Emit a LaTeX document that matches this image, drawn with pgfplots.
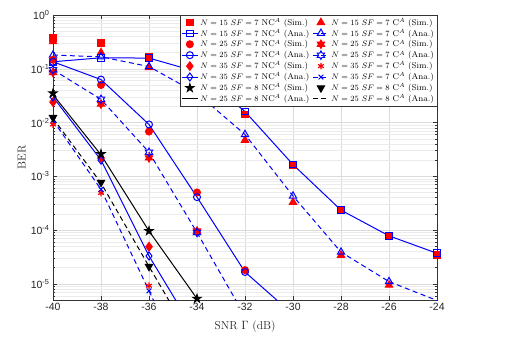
\documentclass[border=0pt]{standalone}
\usepackage{fontspec}
\usepackage{pgfplots}
\pgfplotsset{compat=1.18}
\newfontfamily\ticksfont{Liberation Sans}
\pgfdeclareplotmark{hexagram}{%
  \pgfpathmoveto{\pgfpointpolar{90}{\pgfplotmarksize}}%
  \pgfpathlineto{\pgfpointpolar{120}{0.577\pgfplotmarksize}}%
  \pgfpathlineto{\pgfpointpolar{150}{\pgfplotmarksize}}%
  \pgfpathlineto{\pgfpointpolar{180}{0.577\pgfplotmarksize}}%
  \pgfpathlineto{\pgfpointpolar{210}{\pgfplotmarksize}}%
  \pgfpathlineto{\pgfpointpolar{240}{0.577\pgfplotmarksize}}%
  \pgfpathlineto{\pgfpointpolar{270}{\pgfplotmarksize}}%
  \pgfpathlineto{\pgfpointpolar{300}{0.577\pgfplotmarksize}}%
  \pgfpathlineto{\pgfpointpolar{330}{\pgfplotmarksize}}%
  \pgfpathlineto{\pgfpointpolar{0}{0.577\pgfplotmarksize}}%
  \pgfpathlineto{\pgfpointpolar{30}{\pgfplotmarksize}}%
  \pgfpathlineto{\pgfpointpolar{60}{0.577\pgfplotmarksize}}%
  \pgfpathclose\pgfusepathqstroke}
\pgfdeclareplotmark{hexagram*}{%
  \pgfpathmoveto{\pgfpointpolar{90}{\pgfplotmarksize}}%
  \pgfpathlineto{\pgfpointpolar{120}{0.577\pgfplotmarksize}}%
  \pgfpathlineto{\pgfpointpolar{150}{\pgfplotmarksize}}%
  \pgfpathlineto{\pgfpointpolar{180}{0.577\pgfplotmarksize}}%
  \pgfpathlineto{\pgfpointpolar{210}{\pgfplotmarksize}}%
  \pgfpathlineto{\pgfpointpolar{240}{0.577\pgfplotmarksize}}%
  \pgfpathlineto{\pgfpointpolar{270}{\pgfplotmarksize}}%
  \pgfpathlineto{\pgfpointpolar{300}{0.577\pgfplotmarksize}}%
  \pgfpathlineto{\pgfpointpolar{330}{\pgfplotmarksize}}%
  \pgfpathlineto{\pgfpointpolar{0}{0.577\pgfplotmarksize}}%
  \pgfpathlineto{\pgfpointpolar{30}{\pgfplotmarksize}}%
  \pgfpathlineto{\pgfpointpolar{60}{0.577\pgfplotmarksize}}%
  \pgfpathclose\pgfusepathqfillstroke}
\pgfdeclareplotmark{pentagram*}{%
  \pgfpathmoveto{\pgfpointpolar{90}{\pgfplotmarksize}}%
  \pgfpathlineto{\pgfpointpolar{126}{0.382\pgfplotmarksize}}%
  \pgfpathlineto{\pgfpointpolar{162}{\pgfplotmarksize}}%
  \pgfpathlineto{\pgfpointpolar{198}{0.382\pgfplotmarksize}}%
  \pgfpathlineto{\pgfpointpolar{234}{\pgfplotmarksize}}%
  \pgfpathlineto{\pgfpointpolar{270}{0.382\pgfplotmarksize}}%
  \pgfpathlineto{\pgfpointpolar{306}{\pgfplotmarksize}}%
  \pgfpathlineto{\pgfpointpolar{342}{0.382\pgfplotmarksize}}%
  \pgfpathlineto{\pgfpointpolar{18}{\pgfplotmarksize}}%
  \pgfpathlineto{\pgfpointpolar{54}{0.382\pgfplotmarksize}}%
  \pgfpathclose\pgfusepathqfillstroke}
\begin{document}
\begin{tikzpicture}
\path[use as bounding box] (-53pt,-46pt) rectangle (473pt,300pt);
\begin{axis}[
  at={(0pt,0pt)}, anchor=south west,
  scale only axis, width=384pt, height=285pt,
  ymode=log, log basis y=10,
  xmin=-40, xmax=-24, ymin=5e-6, ymax=1,
  xtick={-40,-38,...,-24},
  xticklabels={-40,-38,-36,-34,-32,-30,-28,-26,-24},
  ytick={1e-5,1e-4,1e-3,1e-2,1e-1,1},
  yticklabels={10\textsuperscript{-5},10\textsuperscript{-4},10\textsuperscript{-3},10\textsuperscript{-2},10\textsuperscript{-1},10\textsuperscript{0}},
  minor ytick={5e-6,6e-6,7e-6,8e-6,9e-6,2e-5,3e-5,4e-5,5e-5,6e-5,7e-5,8e-5,9e-5,2e-4,3e-4,4e-4,5e-4,6e-4,7e-4,8e-4,9e-4,2e-3,3e-3,4e-3,5e-3,6e-3,7e-3,8e-3,9e-3,2e-2,3e-2,4e-2,5e-2,6e-2,7e-2,8e-2,9e-2,0.2,0.3,0.4,0.5,0.6,0.7,0.8,0.9},
  tick label style={font=\ticksfont\fontsize{10.5}{12}\selectfont, text=black!85},
  tick align=inside,
  major tick length=4pt, minor tick length=2pt,
  every tick/.style={black!80, line width=0.4pt},
  axis line style={black!80, line width=0.5pt},
  xmajorgrids, ymajorgrids, yminorgrids,
  major grid style={black!14, line width=0.4pt},
  minor grid style={black!8, line width=0.4pt},
  xlabel={SNR $\Gamma$ (dB)}, ylabel={BER},
  label style={font=\fontsize{11.5}{13}\selectfont, text=black!85},
  xlabel style={yshift=-3pt},
  ylabel style={yshift=-2pt},
  legend columns=2,
  legend cell align=left,
  legend style={at={(1,1)}, anchor=north east, draw=black!80, fill=white,
    font=\fontsize{8.45}{9.5}\selectfont, inner sep=1pt, row sep=-1.5pt,
    /tikz/every even column/.append style={column sep=1pt}},
  legend image code/.code={\draw[mark repeat=2,mark phase=2] plot coordinates {(0pt,0pt)(8pt,0pt)(16pt,0pt)};},
  every axis plot/.append style={line width=1pt},
]
% row 1
\addplot[only marks, red, mark=square*, mark size=3.3pt, mark options={fill=red}] coordinates {(-40,0.375)(-38,0.30)(-36,0.167)(-34,0.09)(-32,0.014)(-30,1.6e-3)(-28,2.4e-4)(-26,7.8e-5)(-24,3.4e-5)};
\addlegendentry{$N=15$ $SF=7$ NC$^A$ (Sim.)}
\addplot[only marks, red, mark=triangle*, mark size=4.2pt, mark options={fill=red}] coordinates {(-40,0.32)(-38,0.2)(-36,0.105)(-34,0.03)(-32,4.7e-3)(-30,3.3e-4)(-28,3.4e-5)(-26,9.5e-6)};
\addlegendentry{$N=15$ $SF=7$ C$^A$ (Sim.)}
% row 2
\addplot[blue, solid, mark=square, mark size=3.3pt, mark options={solid}] coordinates {(-40,0.135)(-38,0.16)(-36,0.158)(-34,0.088)(-32,0.016)(-30,1.65e-3)(-28,2.35e-4)(-26,7.8e-5)(-24,3.7e-5)};
\addlegendentry{$N=15$ $SF=7$ NC$^A$ (Ana.)}
\addplot[blue, dash pattern=on 5pt off 3.5pt, mark=triangle, mark size=4.2pt, mark options={solid}] coordinates {(-40,0.18)(-38,0.167)(-36,0.11)(-34,0.035)(-32,6e-3)(-30,4.3e-4)(-28,3.9e-5)(-26,1.1e-5)};
\addlegendentry{$N=15$ $SF=7$ C$^A$ (Ana.)}
\addplot[blue, dash pattern=on 5pt off 3.5pt, forget plot] coordinates {(-26,1.1e-5)(-24,4.9e-6)};
% row 3
\addplot[only marks, red, mark=*, mark size=3.5pt, mark options={fill=red}] coordinates {(-40,0.147)(-38,0.05)(-36,6.8e-3)(-34,5e-4)(-32,1.8e-5)};
\addlegendentry{$N=25$ $SF=7$ NC$^A$ (Sim.)}
\addplot[only marks, red, mark=hexagram*, mark size=4.2pt, mark options={fill=red}] coordinates {(-40,0.085)(-38,0.022)(-36,2.2e-3)(-34,9.6e-5)};
\addlegendentry{$N=25$ $SF=7$ C$^A$ (Sim.)}
% row 4
\addplot[blue, solid, mark=o, mark size=3.5pt, mark options={solid}] coordinates {(-40,0.135)(-38,0.063)(-36,9.2e-3)(-34,4.1e-4)(-32,1.66e-5)};
\addlegendentry{$N=25$ $SF=7$ NC$^A$ (Ana.)}
\addplot[blue, solid, forget plot] coordinates {(-32,1.66e-5)(-30,2.7e-6)};
\addplot[blue, dash pattern=on 5pt off 3.5pt, mark=hexagram, mark size=4.2pt, mark options={solid}] coordinates {(-40,0.096)(-38,0.027)(-36,2.8e-3)(-34,9e-5)};
\addlegendentry{$N=25$ $SF=7$ C$^A$ (Ana.)}
\addplot[blue, dash pattern=on 5pt off 3.5pt, forget plot] coordinates {(-34,9e-5)(-32,2.5e-6)};
% row 5
\addplot[only marks, red, mark=diamond*, mark size=4.3pt, mark options={fill=red}] coordinates {(-40,0.024)(-38,2.2e-3)(-36,4.9e-5)};
\addlegendentry{$N=35$ $SF=7$ NC$^A$ (Sim.)}
\addplot[only marks, red, mark=asterisk, mark size=3.3pt, mark options={line width=1.2pt}] coordinates {(-40,9.2e-3)(-38,4.9e-4)(-36,9.2e-6)};
\addlegendentry{$N=35$ $SF=7$ C$^A$ (Sim.)}
% row 6
\addplot[blue, solid, mark=diamond, mark size=4pt, mark options={solid}] coordinates {(-40,0.03)(-38,2.0e-3)(-36,3.3e-5)};
\addlegendentry{$N=35$ $SF=7$ NC$^A$ (Ana.)}
\addplot[blue, solid, forget plot] coordinates {(-36,3.3e-5)(-34,1.1e-6)};
\addplot[blue, dash pattern=on 5pt off 3.5pt, mark=x, mark size=3.3pt, mark options={solid}] coordinates {(-40,0.011)(-38,5.7e-4)(-36,7.4e-6)};
\addlegendentry{$N=35$ $SF=7$ C$^A$ (Ana.)}
\addplot[blue, dash pattern=on 5pt off 3.5pt, forget plot] coordinates {(-36,7.4e-6)(-34,1e-7)};
% row 7
\addplot[only marks, black, mark=pentagram*, mark size=4.2pt, mark options={fill=black}] coordinates {(-40,0.035)(-38,2.6e-3)(-36,9.6e-5)(-34,5.3e-6)};
\addlegendentry{$N=25$ $SF=8$ NC$^A$ (Sim.)}
\addplot[only marks, black, mark=triangle*, mark size=4.2pt, mark options={fill=black, rotate=180}] coordinates {(-40,0.0124)(-38,7.7e-4)(-36,2.1e-5)};
\addlegendentry{$N=25$ $SF=8$ C$^A$ (Sim.)}
% row 8
\addplot[black, solid, no marks] coordinates {(-40,0.033)(-38,2.5e-3)(-36,9.6e-5)(-34,5.3e-6)};
\addlegendentry{$N=25$ $SF=8$ NC$^A$ (Ana.)}
\addplot[black, dash pattern=on 5pt off 3.5pt, no marks] coordinates {(-40,0.012)(-38,7.5e-4)(-36,2.1e-5)(-34,6.3e-7)};
\addlegendentry{$N=25$ $SF=8$ C$^A$ (Ana.)}
\end{axis}
\end{tikzpicture}
\end{document}
